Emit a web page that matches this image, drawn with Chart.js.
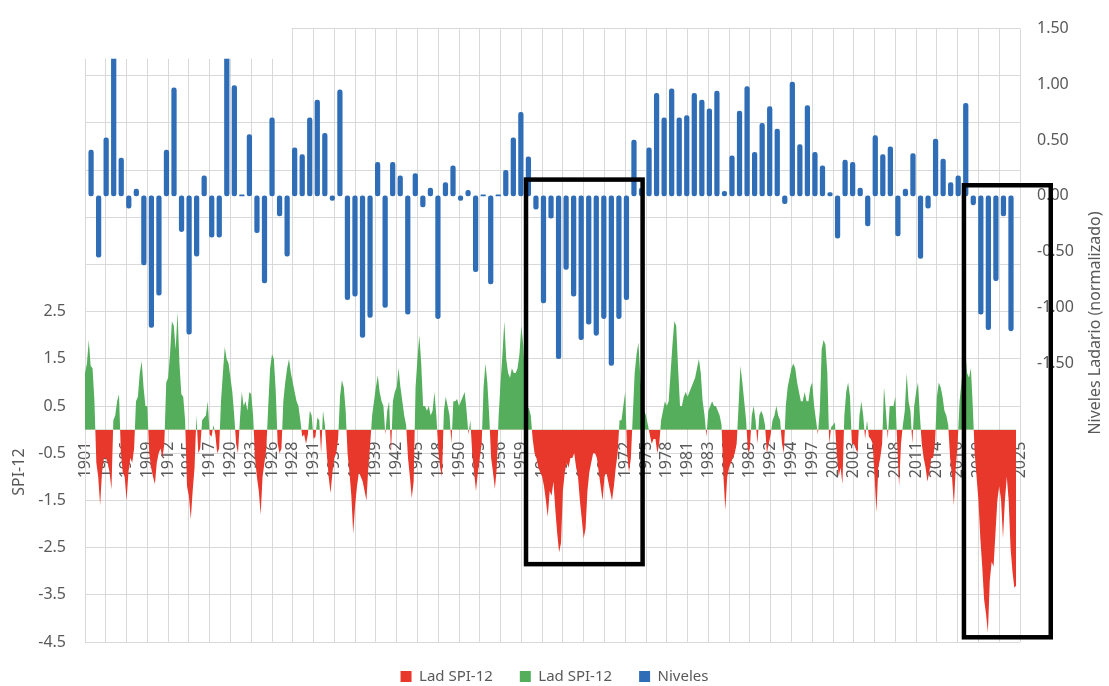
<!DOCTYPE html>
<html><head><meta charset="utf-8">
<script src="https://cdn.jsdelivr.net/npm/chart.js@4.4.1/dist/chart.umd.min.js"></script>
<style>html,body{margin:0;padding:0;background:#fff;}</style>
</head><body>
<canvas id="c" width="1109" height="686"></canvas>
<script>
// ---------- DATA ----------
// SPI-12 (Ladario), quarterly readings starting at 1901.25 (decimal year)
const spiStart = 1901.25;
const spiStep = 0.25;
const spi = [
        1.2, 1.4, 1.9,            // 1901
  1.35, 1.3, 0.6, -0.7,          // 1902
  -1.0, -1.6, -0.9, -0.6,        // 1903
  -0.6, -0.7, -0.9, -1.27,       // 1904
  0.2, 0.3, 0.6, 0.75,           // 1905
  -0.5, -0.9, -1.0, -1.5,        // 1906
  -0.9, -0.6, -0.7, -0.4,        // 1907
  0.6, 0.7, 1.2, 1.45,           // 1908
  0.9, 0.5, 0.5, -0.5,           // 1909
  -0.8, -1.0, -1.15, -0.7,       // 1910
  -0.5, -0.4, -0.6, -0.3,        // 1911
  1.0, 1.1, 1.6, 2.3,            // 1912
  2.2, 1.7, 2.5, 1.4,            // 1913
  0.75, 0.7, 0.2, -1.2,          // 1914
  -1.4, -1.9, -1.3, -0.8,        // 1915
  0.3, -0.5, -0.4, 0.2,          // 1916
  0.25, 0.3, 0.6, -0.1,          // 1917
  -0.15, 0.1, -0.1, -0.5,        // 1918
  -0.4, 0.6, 1.2, 1.75,          // 1919
  1.5, 1.4, 1.1, 0.8,            // 1920
  0.3, -0.3, -0.5, 0.2,          // 1921
  0.8, 0.5, 0.6, 0.4,            // 1922
  0.8, 0.75, 0.3, -0.6,          // 1923
  -1.0, -1.3, -1.8, -1.0,        // 1924
  -0.7, -0.4, 0.5, 1.3,          // 1925
  1.6, 1.5, 0.8, -0.3,           // 1926
  -0.5, -0.4, 0.6, 1.0,          // 1927
  1.3, 1.5, 1.2, 1.0,            // 1928
  0.8, 0.6, 0.5, 0.2,            // 1929
  -0.15, -0.1, -0.3, -0.1,       // 1930
  0.4, 0.3, -0.2, -0.15,         // 1931
  0.25, 0.2, -0.5, 0.4,          // 1932
  0.1, -0.5, -1.0, -1.35,        // 1933
  -0.9, -0.6, -0.5, -0.2,        // 1934
  0.7, 1.05, 0.9, 0.4,           // 1935
  -0.5, -0.9, -1.4, -2.2,        // 1936
  -1.6, -1.2, -0.9, -1.0,        // 1937
  -1.1, -1.3, -1.5, -0.8,        // 1938
  -0.3, 0.3, 0.6, 0.9,           // 1939
  1.15, 0.8, 0.6, 0.5,           // 1940
  -0.1, 0.4, 0.6, -0.5,          // 1941
  0.6, 0.8, 0.9, 1.3,            // 1942
  0.9, 0.6, 0.3, 0.1,            // 1943
  -0.6, -1.0, -1.45, -1.1,       // 1944
  0.9, 1.5, 2.0, 1.4,            // 1945
  0.5, 0.5, 0.4, 0.5,            // 1946
  0.3, 0.4, 0.8, 0.3,            // 1947
  -0.4, -0.8, -1.0, 0.4,         // 1948
  0.7, 0.5, 0.3, -0.3,           // 1949
  0.6, 0.6, 0.65, 0.5,           // 1950
  0.6, 0.7, 0.8, 0.4,            // 1951
  -0.1, 0.2, -0.5, -0.9,         // 1952
  -1.3, -0.9, -0.6, -0.3,        // 1953
  0.9, 1.4, 1.0, 0.3,            // 1954
  -0.6, -0.9, -1.25, -0.8,       // 1955
  0.3, 1.0, 1.6, 2.3,            // 1956
  1.5, 1.2, 1.1, 1.3,            // 1957
  1.2, 1.2, 1.3, 1.6,            // 1958
  2.2, 1.8, 1.0, 0.5,            // 1959
  0.45, 0.3, -0.2, -0.5,         // 1960
  -0.6, -0.8, -0.9, -1.0,        // 1961
  -1.2, -1.5, -1.85, -1.3,       // 1962
  -1.4, -1.1, -1.7, -2.2,        // 1963
  -2.6, -2.4, -1.3, -0.9,        // 1964
  -0.7, -0.8, -0.6, -0.6,        // 1965
  -0.5, -0.8, -1.0, -1.5,        // 1966
  -1.9, -2.3, -2.1, -1.3,        // 1967
  -0.9, -0.7, -0.5, -0.5,        // 1968
  -0.6, -0.9, -1.2, -1.5,        // 1969
  -1.0, -0.9, -1.1, -1.3,        // 1970
  -1.5, -1.2, -0.8, -0.5,        // 1971
  0.2, 0.2, 0.5, 0.8,            // 1972
  -0.5, -0.9, -0.6, 0.3,         // 1973
  1.2, 1.6, 1.85, 1.1,           // 1974
  0.6, 0.4, 0.3, 0.1,            // 1975
  -0.1, -0.3, -0.2, -0.2,        // 1976
  -0.5, -0.3, 0.2, 0.4,          // 1977
  0.6, 0.5, 0.6, 1.2,            // 1978
  1.8, 2.3, 2.2, 1.3,            // 1979
  0.5, 0.5, 0.7, 0.8,            // 1980
  0.7, 0.8, 0.9, 1.0,            // 1981
  1.1, 1.3, 1.5, 1.2,            // 1982
  0.6, 0.3, -0.15, 0.4,          // 1983
  0.5, 0.6, 0.5, 0.5,            // 1984
  0.4, 0.3, 0.1, -1.0,           // 1985
  -1.7, -1.0, -0.8, -0.7,        // 1986
  -0.6, -0.5, -0.3, 0.5,         // 1987
  1.35, 1.0, 0.6, 0.2,           // 1988
  -0.5, -0.4, 0.3, 0.5,          // 1989
  0.2, -0.3, 0.3, 0.4,           // 1990
  0.3, 0.1, -0.5, -0.3,          // 1991
  -0.1, 0.2, 0.3, 0.5,           // 1992
  0.3, 0.2, -0.3, -0.5,          // 1993
  0.5, 0.9, 1.1, 1.3,            // 1994
  1.4, 1.3, 1.0, 0.8,            // 1995
  0.6, 0.6, 0.8, 0.6,            // 1996
  0.6, 0.9, 1.0, 0.5,            // 1997
  0.2, -0.1, 0.4, 1.7,           // 1998
  1.9, 1.8, 1.2, -0.3,           // 1999
  0.05, 0.1, 0.15, -0.5,         // 2000
  -1.0, -0.8, -1.15, 0.3,        // 2001
  0.8, 1.0, 0.7, -0.3,           // 2002
  -0.3, -0.4, -0.5, 0.3,         // 2003
  0.6, 0.3, -0.2, 0.2,           // 2004
  -0.15, -0.2, -0.3, -1.0,       // 2005
  -1.75, -0.8, -0.6, -0.3,       // 2006
  0.9, 0.4, -0.2, 0.5,           // 2007
  0.5, 0.5, 0.7, -0.3,           // 2008
  -1.2, -0.3, 0.1, 0.4,          // 2009
  1.2, 0.6, 0.4, -0.3,           // 2010
  0.5, 0.8, 1.0, 0.3,            // 2011
  -0.3, -0.6, -0.8, -1.1,        // 2012
  -0.9, -0.6, -0.6, -0.3,        // 2013
  0.7, 1.0, 0.9, 0.7,            // 2014
  0.4, 0.3, 0.1, -0.6,           // 2015
  -1.0, -1.6, -0.8, -0.3,        // 2016
  0.6, 1.0, 1.4, 1.7,            // 2017
  1.2, 1.1, 1.3, 0.5,            // 2018
  -0.5, -1.0, -1.5, -2.3,        // 2019
  -2.9, -3.6, -3.9, -4.3,        // 2020
  -3.2, -2.8, -2.9, -2.2,        // 2021
  -1.5, -1.2, -1.5, -2.3,        // 2022
  -1.5, -1.0, -1.5, -2.5,        // 2023
  -3.0, -3.35, -3.3              // 2024
];

// Niveles Ladario (normalizado), annual
const nivYears = [
  1901,1902,1903,1904,1905,1906,1907,1908,1909,1910,1911,1912,1913,1914,1915,1916,1917,1918,1919,1920,
  1921,1922,1923,1924,1925,1926,1927,1928,1929,1930,1931,1932,1933,1934,1935,1936,1937,1938,1939,1940,
  1941,1942,1943,1944,1945,1946,1947,1948,1949,1950,1951,1952,1953,1954,1955,1956,1957,1958,1959,1960,
  1961,1962,1963,1964,1965,1966,1967,1968,1969,1970,1971,1972,1973,1974,1975,1976,1977,1978,1979,1980,
  1981,1982,1983,1984,1985,1986,1987,1988,1989,1990,1991,1992,1993,1994,1995,1996,1997,1998,1999,2000,
  2001,2002,2003,2004,2005,2006,2007,2008,2009,2010,2011,2012,2013,2014,2015,2016,2017,2018,2019,2020,
  2021,2022,2023,2024
];
const niveles = [
  0.41,-0.55,0.52,1.35,0.34,-0.11,0.06,-0.62,-1.18,-0.89,0.41,0.97,-0.32,-1.24,-0.54,0.18,-0.37,-0.37,1.35,0.99,
  0.01,0.55,-0.33,-0.78,0.70,-0.18,-0.54,0.43,0.37,0.70,0.86,0.56,-0.04,0.95,-0.93,-0.90,-1.27,-1.09,0.30,-1.00,
  0.30,0.18,-1.06,0.20,-0.10,0.07,-1.10,0.12,0.27,-0.04,0.05,-0.68,0.01,-0.79,0.01,0.23,0.52,0.75,0.35,-0.12,
  -0.96,-0.20,-1.46,-0.66,-0.90,-1.29,-1.15,-1.25,-1.10,-1.52,-1.10,-0.93,0.50,0.07,0.43,0.92,0.70,0.96,0.70,0.72,
  0.92,0.86,0.78,0.94,0.04,0.36,0.76,0.98,0.39,0.65,0.80,0.60,-0.07,1.02,0.46,0.81,0.39,0.27,0.03,-0.38,
  0.32,0.30,0.07,-0.27,0.54,0.37,0.44,-0.36,0.06,0.38,-0.56,-0.11,0.51,0.33,0.12,0.18,0.83,-0.08,-1.06,-1.20,
  -0.76,-0.18,-1.21,null
];

// X tick labels (one every 33 months from the first SPI value)
const xTickLabels = ['1901','1904','1906','1909','1912','1915','1917','1920','1923','1926','1928','1931',
  '1934','1937','1939','1942','1945','1948','1950','1953','1956','1959','1961','1964','1967','1970','1972',
  '1975','1978','1981','1983','1986','1989','1992','1994','1997','2000','2003','2005','2008','2011','2014',
  '2016','2019','2022','2025'];
const xTickStep = 2.75;

// Left axis (SPI-12) gridlines and labelled range; right axis (Niveles)
const spiAxisMin = -4.5, spiAxisMax = 8.5, spiLabelMax = 2.5;
const nivAxisMin = -4.0, nivAxisMax = 1.5, nivLabelMin = -1.5;

// Highlight boxes (decimal year, SPI-axis value)
const highlightBoxes = [
  {x0: 1959.62, x1: 1975.05, y0: 5.30, y1: -2.85},
  {x0: 2017.58, x1: 2029.07, y0: 5.18, y1: -4.40}
];

// ---------- CHART ----------
const GRAY = '#595959', GRID = '#d9d9d9';
const RED = '#E8372B', GREEN = '#55AE5C', BLUE = '#2F6DB7';
Chart.defaults.font.family = "'Noto Sans', 'Open Sans', sans-serif";
Chart.defaults.color = GRAY;

const spiPoints = spi.map((v, i) => ({x: spiStart + i * spiStep, y: v}));

const overlay = {
  id: 'overlay',
  afterDraw(chart) {
    const {ctx, chartArea, scales} = chart;
    const x = scales.x, y = scales.y, y2 = scales.y2;
    ctx.save();
    // blank strip at the top-left (no gridlines there in the original)
    ctx.fillStyle = '#ffffff';
    const maskR = x.getPixelForValue(spiStart + 10 * xTickStep) - 1;
    const maskB = y2.getPixelForValue(1.23);
    ctx.fillRect(chartArea.left - 2, chartArea.top - 2, maskR - chartArea.left + 2, maskB - chartArea.top + 2);
    // black highlight boxes
    ctx.strokeStyle = '#000000';
    ctx.lineWidth = 4.5;
    highlightBoxes.forEach(b => {
      const l = x.getPixelForValue(b.x0), r = x.getPixelForValue(b.x1);
      const t = y.getPixelForValue(b.y0), bt = y.getPixelForValue(b.y1);
      ctx.strokeRect(l, t, r - l, bt - t);
    });
    // axis titles (both read bottom-to-top)
    ctx.fillStyle = GRAY;
    ctx.font = "16px 'Noto Sans', sans-serif";
    ctx.textAlign = 'center';
    ctx.textBaseline = 'middle';
    ctx.translate(19, y.getPixelForValue(-0.9));
    ctx.rotate(-Math.PI / 2);
    ctx.fillText('SPI-12', 0, 0);
    ctx.restore();
    ctx.save();
    ctx.fillStyle = GRAY;
    ctx.font = "16px 'Noto Sans', sans-serif";
    ctx.textAlign = 'center';
    ctx.textBaseline = 'middle';
    ctx.translate(1095, y2.getPixelForValue(-1.14));
    ctx.rotate(-Math.PI / 2);
    ctx.fillText('Niveles Ladario (normalizado)', 0, 0);
    ctx.restore();
  }
};

function rangeTicks(min, max, step) {
  const t = [];
  const n = Math.round((max - min) / step);
  for (let k = 0; k <= n; k++) t.push({value: +(min + k * step).toFixed(4)});
  return t;
}

new Chart(document.getElementById('c'), {
  type: 'bar',
  data: {
    datasets: [
      {
        type: 'line', label: 'Lad SPI-12', data: spiPoints, xAxisID: 'x', yAxisID: 'y',
        borderWidth: 0, borderColor: 'rgba(0,0,0,0)', backgroundColor: RED, pointRadius: 0,
        tension: 0, fill: {target: 'origin', above: 'rgba(0,0,0,0)', below: RED}, order: 2
      },
      {
        type: 'line', label: 'Lad SPI-12', data: spiPoints, xAxisID: 'x', yAxisID: 'y',
        borderWidth: 0, borderColor: 'rgba(0,0,0,0)', backgroundColor: GREEN, pointRadius: 0,
        tension: 0, fill: {target: 'origin', above: GREEN, below: 'rgba(0,0,0,0)'}, order: 1
      },
      {
        type: 'bar', label: 'Niveles', data: niveles, xAxisID: 'x2', yAxisID: 'y2',
        backgroundColor: BLUE, borderWidth: 0, barThickness: 4.6, borderRadius: 2.3,
        borderSkipped: false, order: 0
      }
    ]
  },
  options: {
    responsive: false,
    animation: false,
    devicePixelRatio: 1,
    layout: {padding: {top: 23, bottom: -8, left: 0, right: 0}},
    scales: {
      x: {
        type: 'linear', position: {y: 0}, z: 1, offset: false,
        min: spiStart, max: spiStart + (xTickLabels.length - 1) * xTickStep,
        afterBuildTicks: s => { s.ticks = xTickLabels.map((_, k) => ({value: spiStart + k * xTickStep})); },
        ticks: {autoSkip: false, minRotation: 90, maxRotation: 90, padding: 12,
                font: {size: 16}, color: GRAY, callback: (v, i) => xTickLabels[i]},
        grid: {color: GRID, drawTicks: false, offset: false},
        border: {display: false}
      },
      x2: {
        type: 'category', labels: nivYears, display: false, offset: true,
        grid: {display: false}
      },
      y: {
        type: 'linear', position: 'left', min: spiAxisMin, max: spiAxisMax,
        afterBuildTicks: s => { s.ticks = rangeTicks(spiAxisMin, spiAxisMax, 1); },
        afterFit: s => { s.width = 85; },
        ticks: {autoSkip: false, padding: 19, font: {size: 16}, color: GRAY,
                callback: v => (v <= spiLabelMax + 1e-9 ? v.toFixed(1) : '')},
        grid: {color: GRID, drawTicks: false},
        border: {color: GRID}
      },
      y2: {
        type: 'linear', position: 'right', min: nivAxisMin, max: nivAxisMax,
        afterBuildTicks: s => { s.ticks = rangeTicks(nivAxisMin, nivAxisMax, 0.5); },
        afterFit: s => { s.width = 89; },
        ticks: {autoSkip: false, padding: 17, font: {size: 16}, color: GRAY,
                callback: v => (v >= nivLabelMin - 1e-9 ? v.toFixed(2) : '')},
        grid: {display: false, drawTicks: false},
        border: {display: false}
      }
    },
    plugins: {
      legend: {
        position: 'bottom',
        labels: {boxWidth: 11, boxHeight: 11, padding: 27, font: {size: 15}, color: GRAY,
                 sort: (a, b) => a.datasetIndex - b.datasetIndex}
      },
      tooltip: {enabled: false}
    }
  },
  plugins: [overlay]
});
</script>
</body></html>
